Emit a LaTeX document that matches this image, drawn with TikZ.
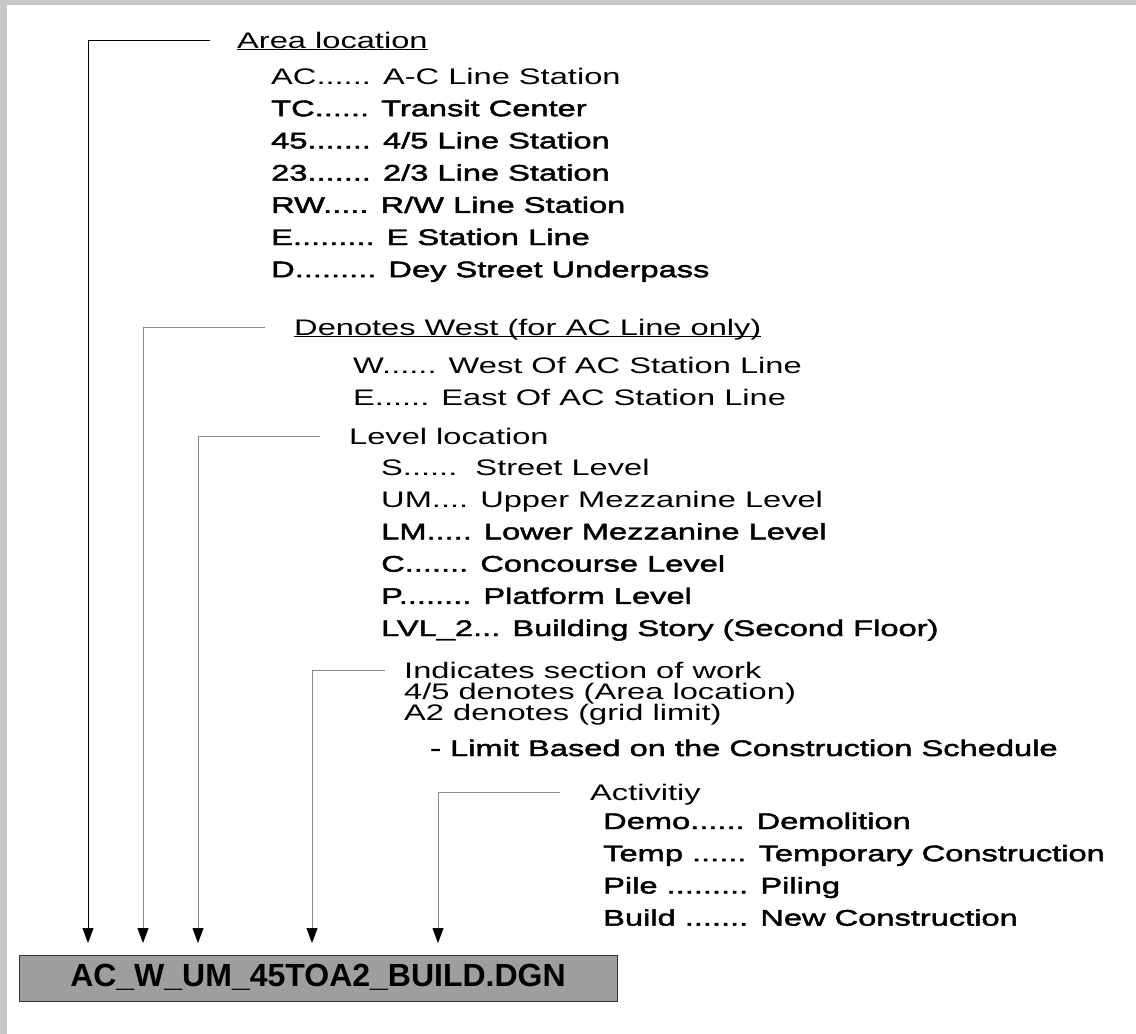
\documentclass[tikz,border=0pt]{standalone}
\usepackage{fontspec}
\setmainfont[FakeStretch=1.45]{Liberation Sans}
\newfontfamily\medfont[FakeStretch=1.45,FakeBold=2]{Liberation Sans}
\newfontfamily\filefont{Liberation Sans}
\usepackage{tikz}
\usetikzlibrary{arrows.meta, positioning}

\begin{document}
\begin{tikzpicture}[
    x=1pt, y=-1pt,
    txt/.style={anchor=west, inner sep=0pt, text height=16pt, text depth=0pt, font=\fontsize{22.5}{26}\selectfont},
    heavy/.style={txt, font=\fontsize{22.5}{26}\medfont},
    row/.style={below=32.2pt of #1.west, anchor=west},
    strip/.style={fill=black!22},
    fname/.style={rectangle, draw=black!80, fill=black!38, line width=0.8pt, minimum width=598pt, minimum height=46pt, inner sep=0pt, text height=23pt, text depth=6pt, font=\fontsize{32}{36}\filefont\bfseries},
    arrow/.style={-{Triangle[width=11pt, length=15pt, color=black]}, line width=0.9pt, draw=black!45}
]
\useasboundingbox (0,0) rectangle (1136,1034);
\fill[white] (0,0) rectangle (1136,1034);
\fill[strip] (0,0) rectangle (1136,5);
\fill[strip] (0,0) rectangle (7,1034);

\node[txt] (area) at (237,40) {\underline{Area location}};
\node[txt] (ac) at (271,76) {AC...... A-C Line Station};
\node[heavy, row=ac] (tc) {TC...... Transit Center};
\node[heavy, row=tc] (l45) {45....... 4/5 Line Station};
\node[heavy, row=l45] (l23) {23....... 2/3 Line Station};
\node[heavy, row=l23] (rw) {RW..... R/W Line Station};
\node[heavy, row=rw] (el) {E......... E Station Line};
\node[heavy, row=el] (dey) {D......... Dey Street Underpass};

\node[txt] (dir) at (294,327) {\underline{\smash{Denotes West (for AC Line only)}}};
\node[txt] (wst) at (353,365) {W...... West Of AC Station Line};
\node[txt, row=wst] (est) {E...... East Of AC Station Line};

\node[txt] (level) at (349,436) {Level location};
\node[txt] (st) at (381,467) {S......~~Street Level};
\node[txt, row=st] (um) {UM.... Upper Mezzanine Level};
\node[heavy, row=um] (lm) {LM..... Lower Mezzanine Level};
\node[heavy, row=lm] (cc) {C....... Concourse Level};
\node[heavy, row=cc] (pf) {P........ Platform Level};
\node[heavy, row=pf] (lvl) {LVL\_2... Building Story (Second Floor)};

\node[txt] (sect) at (404,670) {Indicates section of work};
\node[txt] (sarea) at (404,691) {4/5 denotes (Area location)};
\node[txt] (sgrid) at (404,712) {A2 denotes (grid limit)};
\node[heavy] (limit) at (430,748) {- Limit Based on the Construction Schedule};

\node[txt] (act) at (590,792) {Activitiy};
\node[heavy] (demo) at (603,821) {Demo...... Demolition};
\node[heavy, row=demo] (temp) {Temp ...... Temporary Construction};
\node[heavy, row=temp] (pile) {Pile ......... Piling};
\node[heavy, row=pile] (build) {Build ....... New Construction};

\node[fname] (file) at (318,978) {AC\_W\_UM\_45TOA2\_BUILD.DGN};

\coordinate (tip1) at (88,943);
\coordinate (tip2) at (143,943);
\coordinate (tip3) at (198,943);
\coordinate (tip4) at (312,943);
\coordinate (tip5) at (438,943);
\draw[arrow, draw=black] ([xshift=-27pt]area.west) -| (tip1);
\draw[arrow] ([xshift=-29pt]dir.west) -| (tip2);
\draw[arrow] ([xshift=-29pt]level.west) -| (tip3);
\draw[arrow] ([xshift=-19pt]sect.west) -| (tip4);
\draw[arrow] ([xshift=-30pt]act.west) -| (tip5);
\end{tikzpicture}
\end{document}
